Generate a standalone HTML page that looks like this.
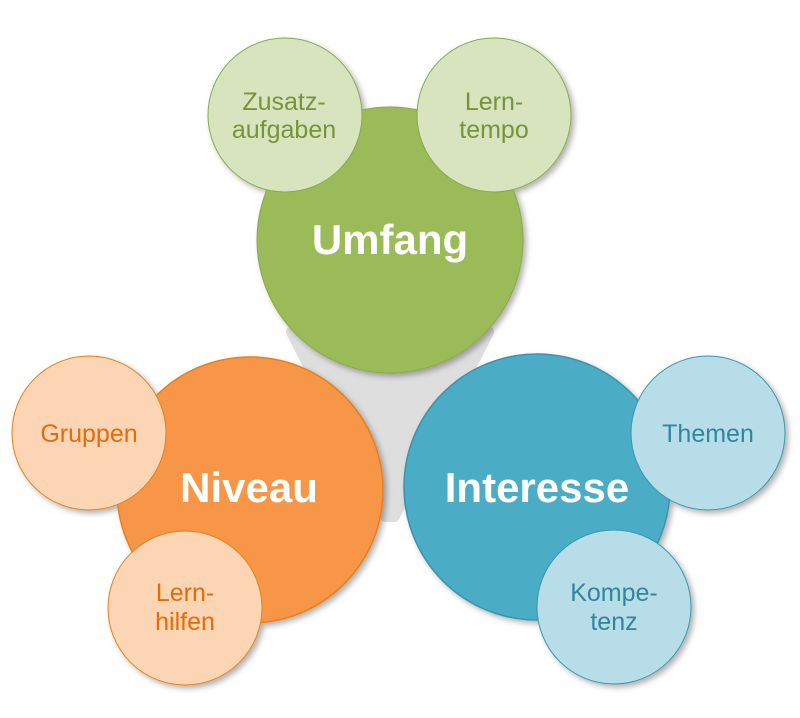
<!DOCTYPE html>
<html><head><meta charset="utf-8"><style>
html,body{margin:0;padding:0;background:#fff;}
svg{display:block;font-family:"Liberation Sans","DejaVu Sans",sans-serif;}
</style></head><body>
<svg width="800" height="718" viewBox="0 0 800 718" xmlns="http://www.w3.org/2000/svg">
<defs>
<filter id="sh" x="-20%" y="-20%" width="140%" height="140%">
<feDropShadow dx="3" dy="3" stdDeviation="3" flood-color="#000" flood-opacity="0.3"/>
</filter>
</defs>
<path d="M292,332 L488,332 L394,516 L386,516 Z" fill="#dedede" stroke="#dedede" stroke-width="12" stroke-linejoin="round"/>
<g filter="url(#sh)">
<circle cx="390" cy="240" r="133" fill="#9bbb59" stroke="#8aa84c" stroke-width="1"/>
<circle cx="285" cy="115" r="77" fill="#d7e4bd" stroke="#8aa84c" stroke-width="1"/>
<circle cx="494" cy="115" r="77" fill="#d7e4bd" stroke="#8aa84c" stroke-width="1"/>
<circle cx="250" cy="490" r="133" fill="#f79646" stroke="#e3801f" stroke-width="1.5"/>
<circle cx="89" cy="433" r="77" fill="#fcd5b5" stroke="#e3801f" stroke-width="1"/>
<circle cx="185" cy="608" r="77" fill="#fcd5b5" stroke="#e3801f" stroke-width="1"/>
<circle cx="537" cy="487" r="133" fill="#4bacc6" stroke="#3a94ab" stroke-width="1.5"/>
<circle cx="708" cy="433" r="77" fill="#b7dee8" stroke="#3a94ab" stroke-width="1"/>
<circle cx="614" cy="607" r="77" fill="#b7dee8" stroke="#3a94ab" stroke-width="1"/>
</g>
<g text-anchor="middle" font-weight="bold" fill="#fff" font-size="42">
<text x="390" y="254">Umfang</text>
<text x="249" y="502">Niveau</text>
<text x="537" y="502">Interesse</text>
</g>
<g text-anchor="middle" font-size="25">
<text x="284" y="110" fill="#77933c">Zusatz-</text>
<text x="284" y="138" fill="#77933c">aufgaben</text>
<text x="494" y="110" fill="#77933c">Lern-</text>
<text x="494" y="138" fill="#77933c">tempo</text>
<text x="89" y="442" fill="#e46c0a">Gruppen</text>
<text x="185" y="601" fill="#e46c0a">Lern-</text>
<text x="185" y="630" fill="#e46c0a">hilfen</text>
<text x="708" y="442" fill="#31859c">Themen</text>
<text x="614" y="601" fill="#31859c">Kompe-</text>
<text x="614" y="630" fill="#31859c">tenz</text>
</g>
</svg>
</body></html>
